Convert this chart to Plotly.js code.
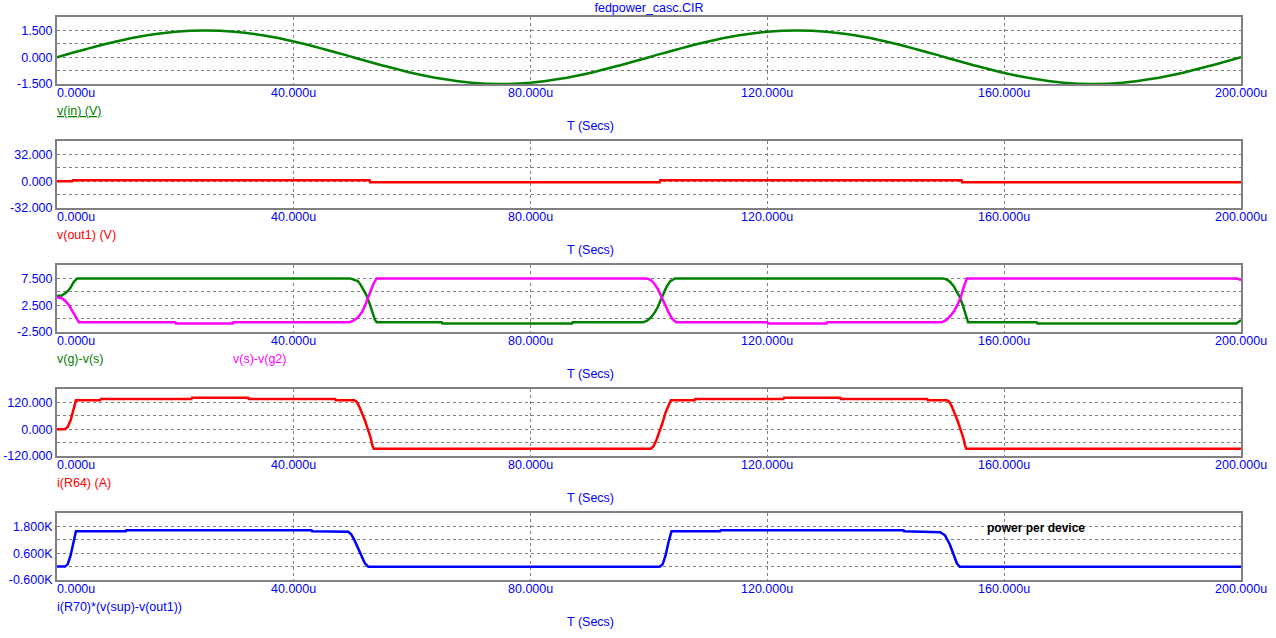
<!DOCTYPE html>
<html>
<head>
<meta charset="utf-8">
<script src="https://cdn.plot.ly/plotly-3.0.1.min.js"></script>
<style>html,body{margin:0;padding:0;background:#fff;}#chart{width:1276px;height:638px;}</style>
</head>
<body>
<div id="chart"></div>
<script>
// ---------- DATA (time in microseconds) ----------
const xTickVals = [0, 40, 80, 120, 160, 200];
const xTickText = ['0.000u', '40.000u', '80.000u', '120.000u', '160.000u', '200.000u'];

// Panel 1: v(in)
const tIn = [0,5,10,15,20,25,30,35,40,45,50,55,60,65,70,75,80,85,90,95,100,105,110,115,120,125,130,135,140,145,150,155,160,165,170,175,180,185,190,195,200];
const vIn = [0,0.46,0.88,1.21,1.43,1.50,1.43,1.21,0.88,0.46,0,-0.46,-0.88,-1.21,-1.43,-1.50,-1.43,-1.21,-0.88,-0.46,0,0.46,0.88,1.21,1.43,1.50,1.43,1.21,0.88,0.46,0,-0.46,-0.88,-1.21,-1.43,-1.50,-1.43,-1.21,-0.88,-0.46,0];

// Panel 2: v(out1)
const tOut1 = [0, 2.6, 2.7, 52.8, 52.9, 101.8, 101.9, 152.8, 152.9, 200];
const vOut1 = [0, 0, 1.2, 1.2, -1.2, -1.2, 1.2, 1.2, -1.2, -1.2];

// Panel 3: v(g)-v(s) and v(s)-v(g2)
const tGS = [0,0.8,1.5,2.2,2.8,3.4,49.5,50.2,50.8,51.3,51.8,52.3,52.8,53.3,53.7,54.0,65,65.1,87,87.1,99,99.7,100.4,101,101.5,102,102.5,103,103.6,104.4,149.6,150.3,150.9,151.5,152,152.5,153,153.5,153.9,165.5,165.6,199.2,200];
const vGS = [4.2,4.3,4.8,5.6,6.8,7.5,7.5,7.3,7.0,6.3,5.4,4.3,2.8,1.0,-0.2,-0.7,-0.7,-0.9,-0.9,-0.7,-0.7,-0.4,0.3,1.2,2.2,3.5,4.8,6.0,7.0,7.5,7.5,7.3,6.8,6.0,5.0,4.0,2.5,0.5,-0.7,-0.7,-0.9,-0.9,-0.3];
const tSG2 = [0,0.8,1.5,2.2,2.8,3.3,3.7,20,20.1,29.7,29.8,49.4,50.2,50.9,51.5,52,52.5,53,53.5,54,99.6,100.3,100.9,101.5,102.1,102.7,103.3,103.9,104.6,120,120.1,130,130.1,149.4,150.2,150.9,151.6,152.2,152.7,153.2,153.7,199.3,200];
const vSG2 = [4.0,3.8,3.2,2.2,1.0,0,-0.7,-0.7,-0.9,-0.9,-0.7,-0.7,-0.3,0.3,1.2,2.3,3.6,5.2,6.6,7.5,7.5,7.2,6.5,5.5,4.1,2.6,1.2,0,-0.7,-0.7,-0.9,-0.9,-0.7,-0.7,-0.3,0.5,1.5,2.8,4.1,6.0,7.5,7.5,7.2];

// Panel 4: i(R64)
const tR64 = [0,1.35,1.8,2.3,2.8,3.2,7.3,7.4,22.7,22.8,32.3,32.4,47,47.1,50.2,50.6,51,51.5,52,52.5,53,53.3,53.5,100.3,100.8,101.3,101.8,102.3,102.8,103.3,103.7,107.7,107.8,122.7,122.8,132.3,132.4,147,147.1,150.3,150.7,151.1,151.6,152.1,152.6,153.1,153.4,153.6,200];
const iR64 = [0,0,10,40,90,130,130,135,135,141,141,135,135,130,130,123,105,75,40,0,-40,-75,-87,-87,-75,-45,-10,30,75,110,130,130,135,135,141,141,135,135,130,130,123,105,75,40,0,-40,-75,-87,-87];

// Panel 5: i(R70)*(v(sup)-v(out1))
const tPow = [0,1.35,1.8,2.3,2.8,3.2,11.6,11.7,43,43.1,49.2,49.7,50.3,50.9,51.5,52,52.6,101.8,102.3,102.8,103.3,103.8,112,112.1,143,143.1,149.2,150,150.8,151.5,152,152.5,200];
const pPow = [0,0,100,500,1100,1580,1580,1624,1624,1580,1560,1450,1150,800,450,150,-10,-10,100,500,1100,1580,1580,1624,1624,1580,1540,1400,1000,500,150,-10,-10];

// y ticks
const yTick1 = [-1.5,-0.75,0,0.75,1.5],  yText1 = ['-1.500','','0.000','','1.500'];
const yTick2 = [-32,-16,0,16,32],        yText2 = ['-32.000','','0.000','','32.000'];
const yTick3 = [-2.5,0,2.5,5,7.5],       yText3 = ['-2.500','','2.500','','7.500'];
const yTick4 = [-120,-60,0,60,120],      yText4 = ['-120.000','','0.000','','120.000'];
const yTick5 = [-600,0,600,1200,1800],   yText5 = ['-0.600K','','0.600K','','1.800K'];

const legendNames = [
  [{t:'<u>v(in) (V)</u>', c:'#008000', x:0}],
  [{t:'v(out1) (V)', c:'#FF0000', x:0}],
  [{t:'v(g)-v(s)', c:'#008000', x:0}, {t:'v(s)-v(g2)', c:'#FF00FF', x:29.7}],
  [{t:'i(R64) (A)', c:'#FF0000', x:0}],
  [{t:'i(R70)*(v(sup)-v(out1))', c:'#0000FF', x:0}]
];

// ---------- LAYOUT ----------
const W = 1276, H = 638;
const mL = 57, mR = 35, mT = 17, mB = 58;
const plotH = H - mT - mB;
const panelTops = [17, 141, 265, 389, 513];
const panelH = 67;
const FONT = 'Liberation Sans, Arial, sans-serif';
const FS = 12.5;
const BLUE = '#0000FF';

const ranges = [[-1.5,2.25],[-32,48],[-2.5,10],[-120,180],[-600,2400]];
const yTicks = [yTick1,yTick2,yTick3,yTick4,yTick5];
const yTexts = [yText1,yText2,yText3,yText4,yText5];

const layout = {
  width: W, height: H,
  margin: {l: mL, r: mR, t: mT, b: mB, pad: 0},
  paper_bgcolor: '#fff', plot_bgcolor: '#fff',
  showlegend: false,
  title: {text: 'fedpower_casc.CIR', font: {family: FONT, size: FS, color: BLUE},
          x: 0.5, xref: 'paper', xanchor: 'center', y: 1 - 8/H, yref: 'container', yanchor: 'middle'},
  annotations: [],
  font: {family: FONT, size: FS, color: BLUE}
};

for (let i = 0; i < 5; i++) {
  const n = i === 0 ? '' : String(i + 1);
  const top = panelTops[i];
  const d0 = (H - mB - (top + panelH)) / plotH;
  const d1 = (H - mB - top) / plotH;
  layout['xaxis' + n] = {
    domain: [0, 1], anchor: 'y' + n, range: [0, 200],
    tickvals: xTickVals, showticklabels: false, ticks: '',
    showgrid: true, gridcolor: '#808080', gridwidth: 1, griddash: '3px,3px',
    showline: true, mirror: true, linecolor: '#808080', linewidth: 2,
    zeroline: false, fixedrange: true
  };
  layout['yaxis' + n] = {
    domain: [Math.max(0, d0), Math.min(1, d1)], anchor: 'x' + n, range: ranges[i],
    tickvals: yTicks[i], ticktext: yTexts[i], ticks: '',
    tickfont: {family: FONT, size: FS, color: BLUE},
    showgrid: true, gridcolor: '#808080', gridwidth: 1, griddash: '3px,3px',
    showline: true, mirror: true, linecolor: '#808080', linewidth: 2,
    zeroline: false, fixedrange: true
  };
  // x tick labels
  xTickVals.forEach((v, k) => {
    layout.annotations.push({
      x: v, xref: 'x' + n, y: 0, yref: 'y' + n + ' domain',
      text: xTickText[k], showarrow: false,
      xanchor: k === 0 ? 'left' : 'center', xshift: k === 0 ? -2 : 0,
      yanchor: 'middle', yshift: -9,
      font: {family: FONT, size: FS, color: BLUE}
    });
  });
  // legend-like labels
  legendNames[i].forEach(l => {
    layout.annotations.push({
      x: l.x, xref: 'x' + n, y: 0, yref: 'y' + n + ' domain',
      text: l.t, showarrow: false, xanchor: 'left', xshift: -2,
      yanchor: 'middle', yshift: -27,
      font: {family: FONT, size: FS, color: l.c}
    });
  });
  // T (Secs)
  layout.annotations.push({
    x: (590 - mL) / (W - mL - mR), xref: 'paper', y: 0, yref: 'y' + n + ' domain',
    text: 'T (Secs)', showarrow: false, xanchor: 'center',
    yanchor: 'middle', yshift: -42,
    font: {family: FONT, size: FS, color: BLUE}
  });
}

layout.annotations.push({
  x: (987 - mL) / (W - mL - mR), xref: 'paper', y: 1, yref: 'y5 domain',
  text: '<b>power per device</b>', showarrow: false, xanchor: 'left', xshift: -2,
  yanchor: 'middle', yshift: -15,
  font: {family: FONT, size: 12, color: '#000000'}
});

const LW = 2.5;
const data = [
  {x: tIn, y: vIn, xaxis: 'x', yaxis: 'y', mode: 'lines', line: {color: '#008000', width: LW, shape: 'spline'}},
  {x: tOut1, y: vOut1, xaxis: 'x2', yaxis: 'y2', mode: 'lines', line: {color: '#FF0000', width: LW}},
  {x: tGS, y: vGS, xaxis: 'x3', yaxis: 'y3', mode: 'lines', line: {color: '#008000', width: LW}},
  {x: tSG2, y: vSG2, xaxis: 'x3', yaxis: 'y3', mode: 'lines', line: {color: '#FF00FF', width: LW}},
  {x: tR64, y: iR64, xaxis: 'x4', yaxis: 'y4', mode: 'lines', line: {color: '#FF0000', width: LW}},
  {x: tPow, y: pPow, xaxis: 'x5', yaxis: 'y5', mode: 'lines', line: {color: '#0000FF', width: LW}}
];

Plotly.newPlot('chart', data, layout, {displayModeBar: false, staticPlot: true});
</script>
</body>
</html>
